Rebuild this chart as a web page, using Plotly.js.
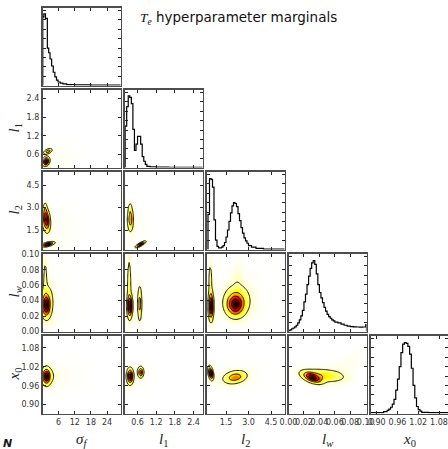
<!DOCTYPE html>
<html><head><meta charset="utf-8">
<script src="https://cdn.plot.ly/plotly-3.0.1.min.js"></script>
<style>html,body{margin:0;padding:0;background:#fff}#chart{width:448px;height:449px}</style>
</head><body><div id="chart"></div>
<script>
// ---- parameters / axes ----
const paramLabels = ['<i>σ</i><sub><i>f</i></sub>','<i>l</i><sub>1</sub>','<i>l</i><sub>2</sub>','<i>l</i><sub><i>w</i></sub>','<i>x</i><sub>0</sub>'];
const paramRanges = [[0,29],[0.18,2.69],[0.2,5.4],[0,0.101],[0.872,1.119]];
const x0HorizRange = [0.882,1.106];
const tickVals = [[6,12,18,24],[0.6,1.2,1.8,2.4],[1.5,3.0,4.5],[0,0.02,0.04,0.06,0.08,0.10],[0.90,0.96,1.02,1.08]];
const tickText = [['6','12','18','24'],['0.6','1.2','1.8','2.4'],['1.5','3.0','4.5'],['0.00','0.02','0.04','0.06','0.08','0.10'],['0.90','0.96','1.02','1.08']];

// ---- 1D marginal histograms (bin edges, heights as fraction of panel) ----
const sfEdges = [0.1,0.5,1.1,1.8,2.3,2.8,3.4,4.0,4.6,5.2,5.8,6.6,7.6,9,12,18,29];
const sfHist  = [0.88,0.92,0.86,0.48,0.42,0.34,0.25,0.17,0.11,0.07,0.045,0.03,0.02,0.012,0.007,0.004];
const l1Edges = [0.20,0.25,0.30,0.35,0.40,0.45,0.50,0.55,0.60,0.65,0.70,0.75,0.80,0.85,0.90,1.0,1.2,1.6,2.0,2.69];
const l1Hist  = [0.53,0.78,0.92,0.90,0.82,0.49,0.22,0.30,0.40,0.40,0.30,0.14,0.08,0.04,0.015,0.008,0.005,0.003,0.003];
const l2Edges = [0.3,0.4,0.5,0.6,0.7,0.8,0.9,1.0,1.1,1.2,1.3,1.4,1.5,1.6,1.7,1.8,1.9,2.0,2.1,2.2,2.3,2.4,2.5,2.6,2.7,2.8,2.9,3.0,3.2,3.5,4.0,5.4];
const l2Hist  = [0.45,0.91,0.90,0.80,0.38,0.12,0.04,0.02,0.02,0.03,0.05,0.09,0.16,0.25,0.36,0.47,0.56,0.60,0.59,0.55,0.46,0.37,0.28,0.21,0.15,0.11,0.08,0.05,0.03,0.015,0.005];
const lwEdges = [0,0.002,0.004,0.006,0.008,0.010,0.012,0.014,0.016,0.018,0.020,0.022,0.024,0.026,0.028,0.030,0.032,0.034,0.036,0.038,0.040,0.042,0.044,0.046,0.048,0.050,0.052,0.054,0.056,0.058,0.060,0.064,0.068,0.072,0.076,0.080,0.084,0.088,0.092,0.096,0.100,0.101];
const lwHist  = [0.01,0.02,0.035,0.045,0.06,0.08,0.11,0.15,0.2,0.27,0.38,0.48,0.6,0.71,0.81,0.88,0.91,0.86,0.74,0.60,0.50,0.43,0.37,0.31,0.26,0.22,0.19,0.17,0.15,0.135,0.12,0.11,0.095,0.08,0.07,0.063,0.06,0.058,0.057,0.058,0.09];
const x0Edges = [0.875,0.92,0.93,0.935,0.94,0.945,0.95,0.955,0.96,0.965,0.97,0.975,0.98,0.985,0.99,0.995,1.0,1.005,1.01,1.015,1.02,1.025,1.03,1.05,1.119];
const x0Hist  = [0.01,0.025,0.04,0.055,0.08,0.12,0.18,0.30,0.44,0.60,0.78,0.89,0.91,0.90,0.86,0.76,0.58,0.36,0.20,0.09,0.05,0.03,0.015,0.01];

// ---- 2D marginal density blobs: [cx, cy, sx, sy, rho, weight] ----
const blobs_l1_sf = [[1.3,0.38,0.65,0.075,0.2,1.0],[2.0,0.70,0.8,0.045,0.5,0.5],[5,0.5,5,0.3,0,0.012]];
const blobs_l2_sf = [[1.4,2.15,0.75,0.4,-0.2,0.75],[1.0,2.8,0.4,0.3,0,0.25],[2.0,0.55,1.2,0.08,0.6,1.0],[5,1.5,5,1.0,0,0.01]];
const blobs_lw_sf = [[1.3,0.034,0.85,0.008,0,1.0],[1.8,0.038,1.3,0.013,0,0.3],[1.0,0.07,0.5,0.018,0,0.15],[5,0.04,5,0.03,0,0.01]];
const blobs_x0_sf = [[1.4,0.99,0.8,0.014,0,1.0],[2.2,0.99,1.6,0.018,0,0.15],[6,0.99,6,0.03,0,0.012]];
const blobs_l2_l1 = [[0.37,2.2,0.05,0.42,0,0.45],[0.36,2.9,0.035,0.3,0,0.12],[0.7,0.55,0.08,0.1,0.85,1.0],[0.5,1.5,0.3,1.0,0,0.01]];
const blobs_lw_l1 = [[0.35,0.033,0.045,0.008,0,1.0],[0.33,0.06,0.035,0.022,0,0.2],[0.67,0.036,0.035,0.012,0,0.45],[0.5,0.04,0.25,0.03,0,0.01]];
const blobs_x0_l1 = [[0.36,0.99,0.055,0.013,0,1.0],[0.70,1.003,0.05,0.009,0,0.7],[0.5,0.99,0.3,0.03,0,0.01]];
const blobs_lw_l2 = [[0.5,0.033,0.09,0.01,0,1.0],[0.45,0.065,0.07,0.015,0,0.18],[2.1,0.035,0.33,0.008,0,0.8],[2.25,0.04,0.5,0.012,0,0.3],[2.25,0.07,0.2,0.012,0,0.04],[2.5,0.05,1.2,0.03,0,0.01]];
const blobs_x0_l2 = [[0.48,1.0,0.09,0.011,-0.4,1.0],[2.1,0.987,0.42,0.011,0.25,0.45],[2.0,0.99,1.5,0.03,0,0.01]];
const blobs_x0_lw = [[0.031,0.986,0.007,0.01,-0.5,1.0],[0.045,0.993,0.016,0.012,-0.3,0.32],[0.07,1.02,0.015,0.03,0.7,0.025]];

const blobMap = {'1,0':blobs_l1_sf,'2,0':blobs_l2_sf,'3,0':blobs_lw_sf,'4,0':blobs_x0_sf,
  '2,1':blobs_l2_l1,'3,1':blobs_lw_l1,'4,1':blobs_x0_l1,'3,2':blobs_lw_l2,'4,2':blobs_x0_l2,'4,3':blobs_x0_lw};
const hists = [[sfEdges,sfHist],[l1Edges,l1Hist],[l2Edges,l2Hist],[lwEdges,lwHist],[x0Edges,x0Hist]];

const hotR = [[0,'#ffffff'],[0.08,'#ffffaf'],[0.254,'#ffff00'],[0.45,'#ff7c00'],[0.635,'#ff0000'],[0.82,'#7d0000'],[1,'#0b0000']];

function density(blobs, xr, yr, n){
  const xs=[], ys=[], z=[];
  for(let i=0;i<n;i++){ xs.push(xr[0]+(xr[1]-xr[0])*i/(n-1)); ys.push(yr[0]+(yr[1]-yr[0])*i/(n-1)); }
  let mx=0;
  for(let j=0;j<n;j++){ const row=[];
    for(let i=0;i<n;i++){ let v=0;
      for(const b of blobs){ const dx=(xs[i]-b[0])/b[2], dy=(ys[j]-b[1])/b[3], r=b[4];
        const q=(dx*dx-2*r*dx*dy+dy*dy)/(1-r*r); v+=b[5]*Math.exp(-q/2); }
      row.push(v); if(v>mx) mx=v; }
    z.push(row); }
  return {xs, ys, z: z.map(r=>r.map(v=>v/mx))};
}

const W=448, H=449, P=78;
const colL = i => 42.5 + 82*i;
const rowT = j => 7.5 + 82*j;
const traces=[];
const layout={width:W,height:H,margin:{l:0,r:0,t:0,b:0},paper_bgcolor:'#fff',plot_bgcolor:'#fff',showlegend:false,annotations:[]};
const tf={family:'DejaVu Sans',size:8,color:'#333'};
let k=0;
for(let r=0;r<5;r++){
  for(let c=0;c<=r;c++){
    k++;
    const sx = k===1?'':String(k);
    const xd=[colL(c)/W, Math.min(1,(colL(c)+P)/W)];
    const yd=[1-(rowT(r)+P)/H, 1-rowT(r)/H];
    const base={showline:true,linecolor:'#4d4d4d',linewidth:1.6,mirror:'ticks',ticks:'inside',ticklen:3,tickwidth:1,tickcolor:'#222',
      showgrid:false,zeroline:false,fixedrange:true,tickfont:tf,tickangle:0,ticklabeloverflow:'allow'};
    const xr = (c===4) ? x0HorizRange : paramRanges[c];
    layout['xaxis'+sx]=Object.assign({},base,{domain:xd,anchor:'y'+sx,range:xr,tickmode:'array',
      tickvals:tickVals[c],ticktext:tickText[c],showticklabels:r===4});
    if(c===r){
      layout['yaxis'+sx]=Object.assign({},base,{domain:yd,anchor:'x'+sx,range:[0,1],tickmode:'array',
        tickvals:[0.12,0.24,0.36,0.48,0.6,0.72,0.84,0.96],showticklabels:false});
      const [e,h]=hists[c];
      const xs=[e[0]], ys=[0];
      for(let i=0;i<h.length;i++){ xs.push(e[i]); ys.push(h[i]); }
      xs.push(e[e.length-1]); ys.push(h[h.length-1]);
      xs.push(e[e.length-1]); ys.push(0);
      traces.push({type:'scatter',mode:'lines',x:xs,y:ys,xaxis:'x'+sx,yaxis:'y'+sx,line:{color:'#000',width:1.2,shape:'hv'},hoverinfo:'skip'});
    } else {
      layout['yaxis'+sx]=Object.assign({},base,{domain:yd,anchor:'x'+sx,range:paramRanges[r],tickmode:'array',
        tickvals:tickVals[r],ticktext:tickText[r],showticklabels:c===0});
      const d=density(blobMap[r+','+c],paramRanges[c],paramRanges[r],70);
      traces.push({type:'contour',x:d.xs,y:d.ys,z:d.z,xaxis:'x'+sx,yaxis:'y'+sx,colorscale:hotR,zauto:false,zmin:0,zmax:1,showscale:false,
        contours:{coloring:'heatmap',start:0.08,end:0.8,size:0.24,showlines:true},line:{color:'#000',width:0.9,smoothing:1},hoverinfo:'skip'});
    }
  }
}
const lf={family:'Liberation Serif',size:15,color:'#222'};
for(let c=0;c<5;c++){
  layout.annotations.push({xref:'paper',yref:'paper',x:(colL(c)+P/2)/W,y:1-440/H,text:paramLabels[c],showarrow:false,font:lf,xanchor:'center',yanchor:'middle'});
}
for(let r=1;r<5;r++){
  layout.annotations.push({xref:'paper',yref:'paper',x:14/W,y:1-(rowT(r)+P/2)/H,text:paramLabels[r],showarrow:false,font:lf,textangle:-90,xanchor:'center',yanchor:'middle'});
}
layout.annotations.push({xref:'paper',yref:'paper',x:138/W,y:1-18/H,xanchor:'left',yanchor:'middle',showarrow:false,
  text:'<span style="font-family:Liberation Serif"><i>T</i><sub><i>e</i></sub></span> hyperparameter marginals',font:{family:'DejaVu Sans',size:13.5,color:'#111'}});
layout.annotations.push({xref:'paper',yref:'paper',x:1/W,y:1-443/H,xanchor:'left',yanchor:'middle',showarrow:false,
  text:'<b><i>N</i></b>',font:{family:'DejaVu Sans',size:11,color:'#1a1a1a'}});
layout.annotations.push({xref:'paper',yref:'paper',x:93/W,y:1-(-2)/H,xanchor:'left',yanchor:'bottom',showarrow:false,
  text:'g',font:{family:'DejaVu Sans',size:16,color:'#3030d0'}});
Plotly.newPlot('chart',traces,layout,{staticPlot:true,displayModeBar:false});
</script></body></html>
